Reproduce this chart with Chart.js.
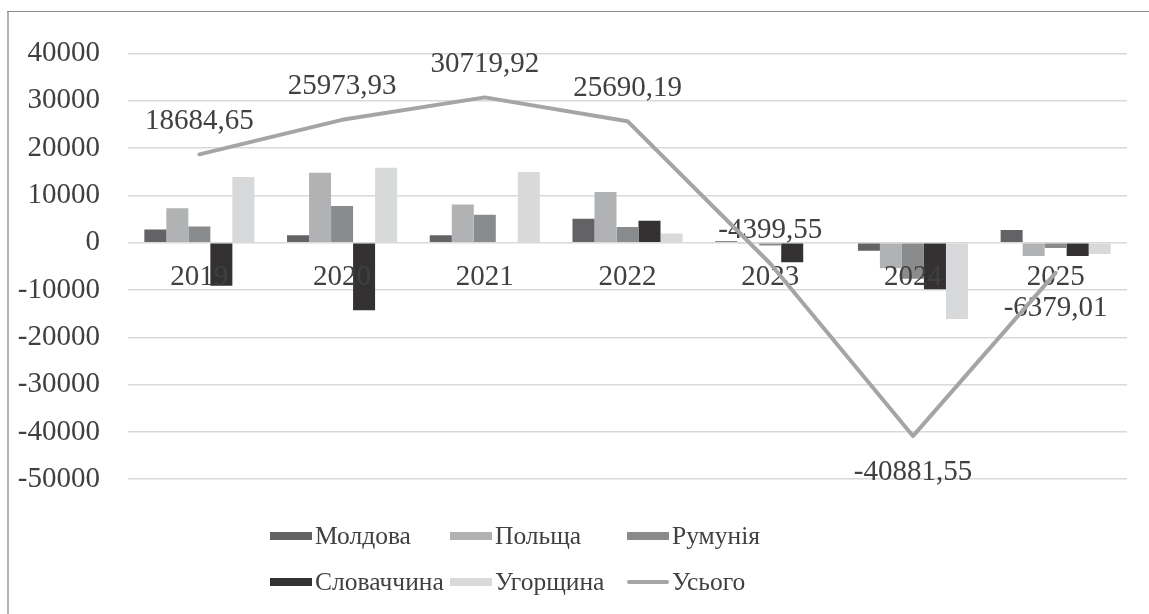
<!DOCTYPE html>
<html>
<head>
<meta charset="utf-8">
<script src="https://cdn.jsdelivr.net/npm/chart.js@4.4.1/dist/chart.umd.min.js"></script>
<style>
  html, body { margin: 0; padding: 0; background: #fff; }
  #wrap { position: relative; width: 1149px; height: 614px; overflow: hidden; }
  #chart { position: absolute; left: 0; top: 0; }
  .frame-left { position: absolute; left: 7px; top: 11px; width: 2px; height: 603px; background: #b3b3b3; }
  .frame-top { position: absolute; left: 7px; top: 11px; width: 1142px; height: 1px; background: #8c8c8c; }
  #legend {
    position: absolute; left: 270px; top: 513px;
    display: grid; grid-template-columns: 180px 177px 220px; grid-auto-rows: 46px;
    font: 25.5px "Liberation Serif", "Times New Roman", serif; color: #404040;
  }
  .item { display: flex; align-items: center; white-space: nowrap; }
  .swatch { width: 42px; margin-right: 3px; flex: none; }
</style>
</head>
<body>
<div id="wrap">
  <canvas id="chart" width="1149" height="614"></canvas>
  <div class="frame-left"></div>
  <div class="frame-top"></div>
  <div id="legend"></div>
</div>
<script>
// Data
const years = ['2019', '2020', '2021', '2022', '2023', '2024', '2025'];
const moldova = [2800, 1600, 1550, 5050, 300, -1700, 2700];
const poland = [7300, 14800, 8100, 10700, -100, -5400, -2800];
const romania = [3450, 7750, 5900, 3300, -600, -7600, -1100];
const slovakia = [-9100, -14300, 150, 4650, -4150, -9850, -2800];
const hungary = [13900, 15850, 14950, 1950, 150, -16130, -2400];
const total = [18684.65, 25973.93, 30719.92, 25690.19, -4399.55, -40881.55, -6379.01];

const yMin = -50000;
const yMax = 40000;
const yStep = 10000;

const FONT = '"Liberation Serif", "Times New Roman", serif';
const TEXT_COLOR = '#404040';

// Category labels and data labels drawn just before the total line, so the line sits on top
const labelsPlugin = {
    id: 'labelsPlugin',
    beforeDatasetDraw(chart, args) {
        if (chart.data.datasets[args.index].type !== 'line') return;
        const ctx = chart.ctx;
        const xScale = chart.scales.x;
        const zeroY = chart.scales.y.getPixelForValue(0);
        ctx.save();
        ctx.font = '29px ' + FONT;
        ctx.fillStyle = TEXT_COLOR;
        ctx.textAlign = 'center';
        ctx.textBaseline = 'middle';

        // year labels next to the zero line
        chart.data.labels.forEach((label, i) => {
            ctx.fillText(label, xScale.getPixelForValue(i), zeroY + 35);
        });

        // values of the total line
        const values = chart.data.datasets[args.index].data;
        args.meta.data.forEach((pt, i) => {
            const v = values[i];
            const text = v.toFixed(2).replace('.', ',');
            const y = v < -5000 ? pt.y + 36 : pt.y - 33;
            ctx.fillText(text, pt.x, y);
        });
        ctx.restore();
    }
};

function barSet(label, data, color) {
    return {
        type: 'bar',
        label: label,
        data: data,
        backgroundColor: color,
        borderWidth: 0,
        barPercentage: 1,
        categoryPercentage: 0.771,
        order: 1
    };
}

const chart = new Chart(document.getElementById('chart'), {
    type: 'bar',
    data: {
        labels: years,
        datasets: [
            barSet('Молдова', moldova, '#636365'),
            barSet('Польща', poland, '#b1b2b4'),
            barSet('Румунія', romania, '#8a8b8d'),
            barSet('Словаччина', slovakia, '#333132'),
            barSet('Угорщина', hungary, '#d8d9da'),
            {
                type: 'line',
                label: 'Усього',
                data: total,
                borderColor: '#a5a5a7',
                borderWidth: 4,
                borderJoinStyle: 'round',
                borderCapStyle: 'round',
                pointRadius: 0,
                tension: 0,
                fill: false,
                order: 0
            }
        ]
    },
    options: {
        responsive: false,
        animation: false,
        layout: {
            padding: { top: 53.5, bottom: 134.8, left: 0, right: 22 }
        },
        plugins: {
            legend: { display: false },
            tooltip: { enabled: false }
        },
        scales: {
            x: {
                display: false,
                offset: true
            },
            y: {
                min: yMin,
                max: yMax,
                afterFit: (scale) => { scale.width = 128; },
                ticks: {
                    stepSize: yStep,
                    padding: 28,
                    color: TEXT_COLOR,
                    font: { family: FONT, size: 29 },
                    callback: (value) => String(value)
                },
                grid: {
                    color: '#d9d9d9',
                    lineWidth: 1.5,
                    drawTicks: false
                },
                border: { display: false }
            }
        }
    },
    plugins: [labelsPlugin]
});

// Legend laid out in three columns like the original
const legend = document.getElementById('legend');
chart.data.datasets.forEach(ds => {
    const item = document.createElement('div');
    item.className = 'item';
    const sw = document.createElement('span');
    sw.className = 'swatch';
    if (ds.type === 'line') {
        sw.style.height = '4px';
        sw.style.borderRadius = '2px';
        sw.style.background = ds.borderColor;
    } else {
        sw.style.height = '8px';
        sw.style.background = ds.backgroundColor;
    }
    const txt = document.createElement('span');
    txt.textContent = ds.label;
    item.appendChild(sw);
    item.appendChild(txt);
    legend.appendChild(item);
});
</script>
</body>
</html>
